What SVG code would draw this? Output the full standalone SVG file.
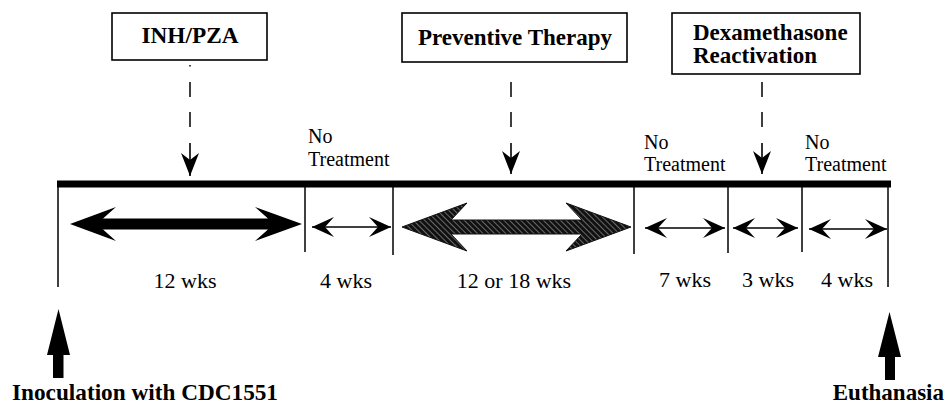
<svg xmlns="http://www.w3.org/2000/svg" width="945" height="411" viewBox="0 0 945 411">
<style>
.box{fill:#fff;stroke:#000;stroke-width:1.6}
.bt{font-family:"Liberation Serif","Times New Roman",serif;font-weight:bold;font-size:23px;fill:#000}
.t{font-family:"Liberation Serif","Times New Roman",serif;font-size:22px;fill:#000}
.nt{font-family:"Liberation Serif","Times New Roman",serif;font-size:20px;fill:#000}
.tick{stroke:#000;stroke-width:1.5}
.dash{stroke:#000;stroke-width:1.5;stroke-dasharray:15 15}
.thin{stroke:#000;stroke-width:1.6;fill:none}
</style>
<defs>
<marker id="sh" markerUnits="userSpaceOnUse" markerWidth="24" markerHeight="22" refX="22" refY="10" orient="auto-start-reverse" viewBox="0 0 24 22">
<path d="M0,0 L22,10 L0,20 L9,10 Z" fill="#000"/>
</marker>
<marker id="dh" markerUnits="userSpaceOnUse" markerWidth="24" markerHeight="20" refX="23" refY="9" orient="auto" viewBox="0 0 24 20">
<path d="M0,0 L23,9 L0,18 L7,9 Z" fill="#000"/>
</marker>
<pattern id="hatch" width="4" height="4" patternUnits="userSpaceOnUse" patternTransform="rotate(-45)">
<rect width="4" height="4" fill="#111"/>
<line x1="0.5" y1="0" x2="0.5" y2="4" stroke="#808080" stroke-width="0.8"/>
</pattern>
</defs>

<g id="node-inh">
<rect class="box" x="112" y="13" width="155" height="47"/>
<text class="bt" x="190" y="43" text-anchor="middle" textLength="97" lengthAdjust="spacingAndGlyphs">INH/PZA</text>
</g>
<g id="node-preventive">
<rect class="box" x="402" y="13" width="225" height="49"/>
<text class="bt" x="515" y="45" text-anchor="middle">Preventive Therapy</text>
</g>
<g id="node-dexa">
<rect class="box" x="672" y="13" width="188" height="61"/>
<text class="bt" x="693" y="40">Dexamethasone</text>
<text class="bt" x="693" y="63">Reactivation</text>
</g>

<g id="timeline">
<rect x="57" y="180.5" width="834" height="7" fill="#000"/>
<line class="tick" x1="58" y1="187" x2="58" y2="287"/>
<line class="tick" x1="305" y1="187" x2="305" y2="252"/>
<line class="tick" x1="393" y1="187" x2="393" y2="255"/>
<line class="tick" x1="634" y1="187" x2="634" y2="254"/>
<line class="tick" x1="728" y1="187" x2="728" y2="253"/>
<line class="tick" x1="802" y1="187" x2="802" y2="252"/>
<line class="tick" x1="888" y1="187" x2="888" y2="287" stroke-width="1.2"/>
</g>

<g id="labels-no-treatment">
<text class="nt" x="308" y="143">No</text>
<text class="nt" x="308" y="166">Treatment</text>
<text class="nt" x="644" y="149">No</text>
<text class="nt" x="644" y="171">Treatment</text>
<text class="nt" x="805" y="149">No</text>
<text class="nt" x="805" y="171">Treatment</text>
</g>

<g id="connectors">
<line x1="190" y1="65" x2="190" y2="66.5" stroke="#000" stroke-width="1.5"/>
<line class="dash" x1="190" y1="82" x2="190" y2="128"/>
<line class="thin" x1="190" y1="143" x2="190" y2="176" marker-end="url(#dh)"/>
<line class="dash" x1="511" y1="82" x2="511" y2="128"/>
<line class="thin" x1="511" y1="143" x2="511" y2="174" marker-end="url(#dh)"/>
<line class="dash" x1="762" y1="82" x2="762" y2="128"/>
<line class="thin" x1="762" y1="143" x2="762" y2="174" marker-end="url(#dh)"/>
</g>

<g id="durations">
<polygon points="70,224 116,207 103,218.5 268,218.5 255,207 302,224 255,241 268,229.5 103,229.5 116,241" fill="#000"/>
<polygon points="402,227 467,203 451,220 582,220 566,203 631,227 566,251 582,234 451,234 467,251" fill="url(#hatch)" stroke="#111" stroke-width="1"/>
<line class="thin" x1="312" y1="227" x2="391" y2="227" marker-start="url(#sh)" marker-end="url(#sh)"/>
<line class="thin" x1="645" y1="228" x2="725" y2="228" marker-start="url(#sh)" marker-end="url(#sh)"/>
<line class="thin" x1="733" y1="228" x2="798" y2="228" marker-start="url(#sh)" marker-end="url(#sh)"/>
<line class="thin" x1="809" y1="229" x2="887" y2="229" marker-start="url(#sh)" marker-end="url(#sh)"/>
<text class="t" x="185" y="288" text-anchor="middle">12 wks</text>
<text class="t" x="346" y="288" text-anchor="middle">4 wks</text>
<text class="t" x="514" y="288" text-anchor="middle">12 or 18 wks</text>
<text class="t" x="685" y="287" text-anchor="middle">7 wks</text>
<text class="t" x="768" y="287" text-anchor="middle">3 wks</text>
<text class="t" x="847" y="287" text-anchor="middle">4 wks</text>
</g>

<g id="node-inoculation">
<polygon points="58.5,309 70,355 63.5,355 63.5,378 53,378 53,355 47,355" fill="#000"/>
<text class="bt" x="12" y="400" textLength="266" lengthAdjust="spacingAndGlyphs">Inoculation with CDC1551</text>
</g>
<g id="node-euthanasia">
<polygon points="889.5,312 901,357 895,357 895,380 885,380 885,357 878,357" fill="#000"/>
<text class="bt" x="944" y="400" text-anchor="end">Euthanasia</text>
</g>
</svg>
